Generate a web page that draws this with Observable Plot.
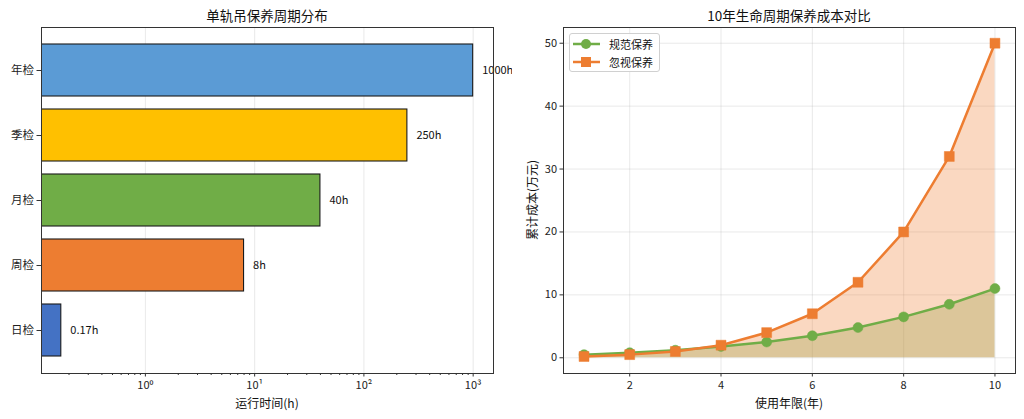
<!DOCTYPE html>
<html><head><meta charset="utf-8">
<script src="https://cdn.jsdelivr.net/npm/d3@7"></script>
<script src="https://cdn.jsdelivr.net/npm/@observablehq/plot@0.6"></script>
<style>
body{margin:0;background:#fff;font-family:"Noto Sans CJK SC","Noto Sans",sans-serif;}
#wrap{position:relative;width:1024px;height:419px;overflow:hidden;background:#fff}
.panel{position:absolute;top:0}
.title{position:absolute;top:5px;font-size:13.5px;color:#111;transform:translateX(-50%);white-space:nowrap}
.xlab{position:absolute;top:394px;font-size:12px;color:#111;transform:translateX(-50%);white-space:nowrap}
.ylab{position:absolute;font-size:12px;color:#111;white-space:nowrap;transform:translate(-50%,-50%) rotate(-90deg)}
.legend{position:absolute;left:569px;top:33px;width:89px;height:37px;border:1px solid #d0d0d0;border-radius:3px;background:rgba(255,255,255,0.85);font-size:11px;color:#111}
.legend .row{position:absolute;left:3px;height:16px;display:flex;align-items:center}
.legend .row span{margin-left:9px}
</style></head>
<body><div id="wrap"></div>
<script>
// ---- Left panel data ----
const stages = ["年检","季检","月检","周检","日检"];
const hours = [1000, 250, 40, 8, 0.17];
const hourLabels = ["1000h","250h","40h","8h","0.17h"];
const barColors = ["#5B9BD5","#FFC000","#70AD47","#ED7D31","#4472C4"];
const decadeTicks = [1, 10, 100, 1000];
const decadeLabels = ["10⁰","10¹","10²","10³"];

// ---- Right panel data ----
const years = [1,2,3,4,5,6,7,8,9,10];
const regularCost = [0.5,0.8,1.2,1.8,2.5,3.5,4.8,6.5,8.5,11];
const neglectCost = [0.2,0.5,1.0,2.0,4,7,12,20,32,50];
const yearTicks = [2,4,6,8,10];
const costTicks = [0,10,20,30,40,50];
const seriesNames = ["规范保养","忽视保养"];
const seriesColors = ["#70AD47","#ED7D31"];

const wrap = document.getElementById("wrap");
const font = '"Noto Sans CJK SC","Noto Sans",sans-serif';

// Left chart
const bars = stages.map((s,i)=>({stage:s, hours:hours[i], label:hourLabels[i], color:barColors[i]}));
const xDomain = [0.112, 1535];
const minorTicks = [];
for (const dec of [0.1,1,10,100]) for (const m of [2,3,4,5,6,7,8,9]) { const v = m*dec; if (v > xDomain[0] && v < xDomain[1]) minorTicks.push(v); }

const left = Plot.plot({
  width:512, height:419, marginLeft:41, marginRight:19, marginTop:27, marginBottom:46,
  style:{fontFamily:font, fontSize:"11px", color:"#222", background:"transparent"},
  x:{type:"log", domain:xDomain, label:null},
  y:{domain:stages, paddingInner:0.2, paddingOuter:0.24, label:null},
  color:{type:"identity"},
  marks:[
    Plot.gridX(decadeTicks,{stroke:"#b0b0b0", strokeOpacity:0.35, strokeWidth:0.8}),
    Plot.barX(bars,{x1:0.001, x2:"hours", y:"stage", fill:"color", stroke:"#1a1a1a", strokeWidth:1.1, clip:true}),
    Plot.text(bars,{x:"hours", y:"stage", text:"label", textAnchor:"start", dx:9, fontSize:11, fill:"#111"}),
    Plot.axisX(minorTicks,{tickSize:2, tickFormat:()=>"", label:null, stroke:"#333"}),
    Plot.axisX(decadeTicks,{tickSize:3.5, tickPadding:4, tickFormat:d=>decadeLabels[decadeTicks.indexOf(d)], label:null, stroke:"#333", fill:"#222"}),
    Plot.axisY({tickSize:4.5, tickPadding:3, label:null, stroke:"#333", fill:"#222", fontSize:11.5}),
    Plot.frame({stroke:"#333", strokeWidth:1})
  ]
});
left.classList.add("panel"); left.style.left = "0px";
wrap.appendChild(left);

// Right chart
const rows = [];
years.forEach((y,i)=>{
  rows.push({year:y, cost:regularCost[i], series:seriesNames[0]});
  rows.push({year:y, cost:neglectCost[i], series:seriesNames[1]});
});
const reg = rows.filter(d=>d.series===seriesNames[0]);
const neg = rows.filter(d=>d.series===seriesNames[1]);

const right = Plot.plot({
  width:512, height:419, marginLeft:51, marginRight:9, marginTop:27, marginBottom:46,
  style:{fontFamily:font, fontSize:"11px", color:"#222", background:"transparent"},
  x:{domain:[0.55,10.45], label:null},
  y:{domain:[-2.5,52.5], label:null},
  marks:[
    Plot.gridX(yearTicks,{stroke:"#b0b0b0", strokeOpacity:0.35, strokeWidth:0.8}),
    Plot.gridY(costTicks,{stroke:"#b0b0b0", strokeOpacity:0.35, strokeWidth:0.8}),
    Plot.areaY(reg,{x:"year", y1:0, y2:"cost", fill:seriesColors[0], fillOpacity:0.3}),
    Plot.areaY(neg,{x:"year", y1:0, y2:"cost", fill:seriesColors[1], fillOpacity:0.3}),
    Plot.lineY(reg,{x:"year", y:"cost", stroke:seriesColors[0], strokeWidth:2.5}),
    Plot.dot(reg,{x:"year", y:"cost", r:5, fill:seriesColors[0], stroke:seriesColors[0], strokeWidth:0.5}),
    Plot.lineY(neg,{x:"year", y:"cost", stroke:seriesColors[1], strokeWidth:2.5}),
    Plot.dot(neg,{x:"year", y:"cost", r:5.6, symbol:"square", fill:seriesColors[1], stroke:seriesColors[1], strokeWidth:0.5}),
    Plot.axisX(yearTicks,{tickSize:3.5, tickPadding:4, label:null, stroke:"#333", fill:"#222"}),
    Plot.axisY(costTicks,{tickSize:3.5, tickPadding:3, label:null, stroke:"#333", fill:"#222"}),
    Plot.frame({stroke:"#333", strokeWidth:1})
  ]
});
right.classList.add("panel"); right.style.left = "512px";
wrap.appendChild(right);

// Titles and axis labels
function addDiv(cls, text, css){ const d=document.createElement("div"); d.className=cls; d.textContent=text; Object.assign(d.style, css); wrap.appendChild(d); return d; }
addDiv("title","单轨吊保养周期分布",{left:"267px"});
addDiv("title","10年生命周期保养成本对比",{left:"789px"});
addDiv("xlab","运行时间(h)",{left:"267px"});
addDiv("xlab","使用年限(年)",{left:"789px"});
addDiv("ylab","累计成本(万元)",{left:"531px", top:"200px"});

// Legend
const lg = document.createElement("div"); lg.className="legend";
seriesNames.forEach((name,i)=>{
  const row=document.createElement("div"); row.className="row"; row.style.top=(i===0?2:20)+"px";
  const sym = i===0 ? `<circle cx="13" cy="8" r="5" fill="${seriesColors[i]}"/>` : `<rect x="8" y="3" width="10" height="10" fill="${seriesColors[i]}"/>`;
  row.innerHTML = `<svg width="27" height="16"><line x1="0" x2="27" y1="8" y2="8" stroke="${seriesColors[i]}" stroke-width="2.5"/>${sym}</svg><span>${name}</span>`;
  lg.appendChild(row);
});
wrap.appendChild(lg);
</script></body></html>
